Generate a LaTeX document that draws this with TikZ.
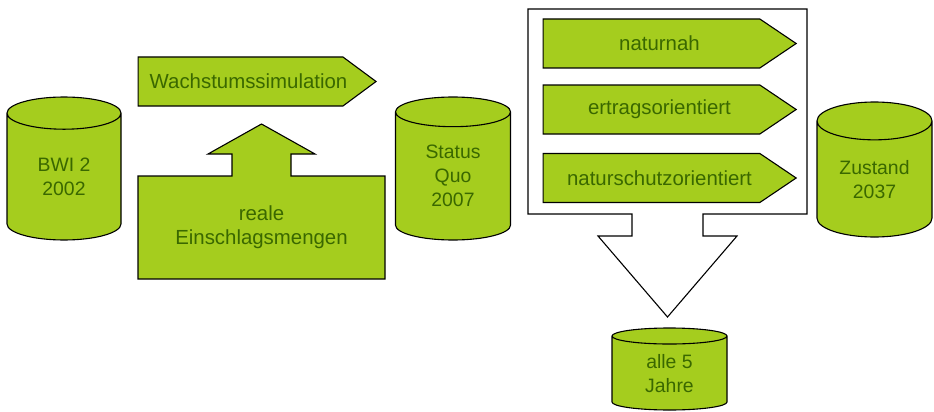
\documentclass[tikz,border=0pt]{standalone}
\usepackage{fontspec}
\setmainfont{Liberation Sans}
\usetikzlibrary{shapes.geometric,shapes.symbols}
\definecolor{leaf}{RGB}{165,205,30}
\definecolor{leafdark}{RGB}{58,104,0}
\tikzset{
	db/.style={cylinder, shape border rotate=90, anchor=shape center,
		draw=black, fill=leaf, line width=1.1pt, text=leafdark,
		align=center, inner sep=0pt,
		font=\fontsize{19.4}{24}\selectfont},
	tagtext/.style={text=leafdark, align=center,
		font=\fontsize{20.4}{24}\selectfont},
	tag/.style={signal, signal to=east, draw=black, fill=leaf,
		line width=1.1pt, inner sep=0pt, minimum height=49pt,
		label={[tagtext, xshift=8pt]center:#1}},
	plate/.style={draw=black, fill=leaf, line width=1.1pt, line join=miter},
	frame/.style={draw=black, fill=white, line width=1.1pt},
}
\begin{document}
\begin{tikzpicture}[x=1pt, y=-1pt]
	\useasboundingbox (0,0) rectangle (934,412);
	\filldraw[plate] (138,279) -- (138,176) -- (232,176) -- (232,154) -- (208,154)
		-- (261.5,124) -- (315,154) -- (291,154) -- (291,176) -- (385,176)
		-- (385,279) -- cycle;
	\filldraw[frame] (528,9) -- (807,9) -- (807,214) -- (703,214) -- (703,236)
		-- (737,236) -- (667.5,317) -- (598,236) -- (632,236) -- (632,214)
		-- (528,214) -- cycle;
	\node[db, minimum width=114pt, minimum height=143pt, aspect=0.61] (bwi) at (64,168.5) {BWI 2\\2002};
	\node[db, minimum width=115pt, minimum height=143pt, aspect=0.54] (quo) at (453,168.5) {Status\\Quo\\2007};
	\node[db, minimum width=115pt, minimum height=135pt, aspect=0.54] (zustand) at (874.5,169.5) {Zustand\\2037};
	\node[db, minimum width=115pt, minimum height=82pt, aspect=0.33] (alle) at (669.5,369) {alle 5\\Jahre};
	\node[tag=Wachstumssimulation, minimum width=238pt, signal pointer angle=73] (wachstum) at (240.5,81.5) {};
	\node[tag=naturnah, minimum width=253pt, signal pointer angle=68] (naturnah) at (651.5,43.5) {};
	\node[tag=ertragsorientiert, minimum width=253pt, signal pointer angle=68] (ertrag) at (651.5,109.5) {};
	\node[tag=naturschutzorientiert, minimum width=253pt, signal pointer angle=68] (schutz) at (651.5,178) {};
	\node[tagtext] (real) at (261.5,227) {reale\\Einschlagsmengen};
\end{tikzpicture}
\end{document}
